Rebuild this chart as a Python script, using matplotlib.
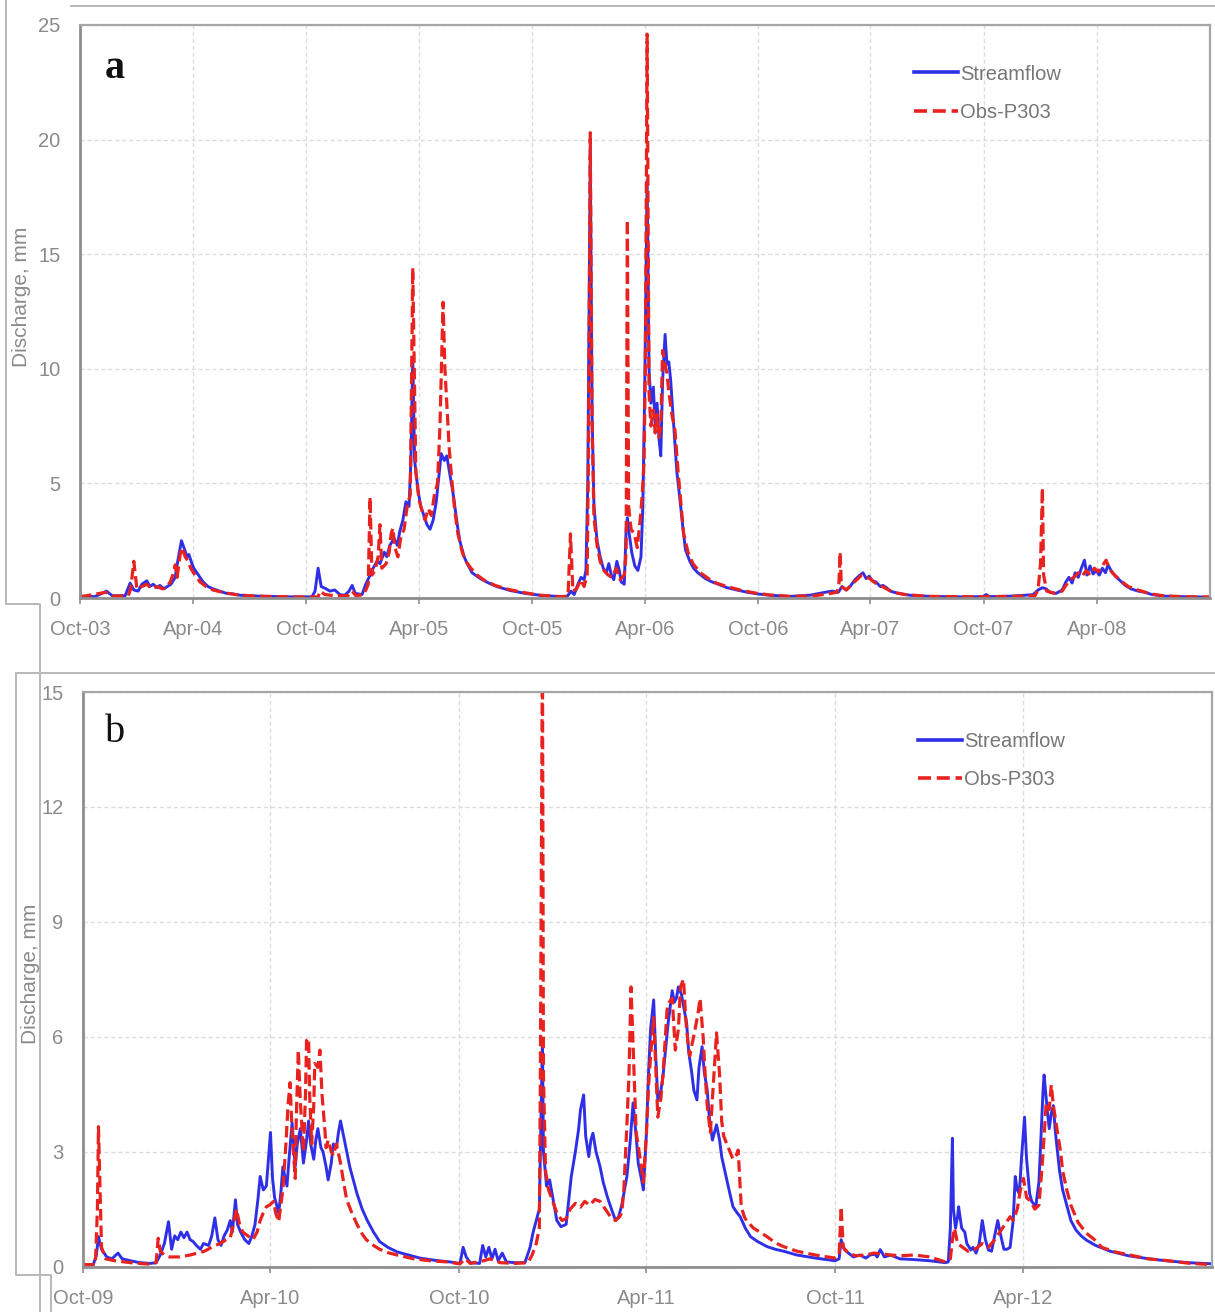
import numpy as np
import pandas as pd
import matplotlib
matplotlib.use("Agg")
import matplotlib.pyplot as plt
import matplotlib.dates as mdates
from matplotlib.lines import Line2D

# ---------------------------------------------------------------------------
# Daily discharge records (mm). Days are counted from the start of each record.
# ---------------------------------------------------------------------------
start_a = "2003-10-01"
end_a = "2008-10-01"

flow_a_day = [0, 24, 43, 52, 73, 81, 87, 94, 100, 108, 113, 118, 125, 129, 136, 141, 147, 154, 158, 164,
              168, 173, 176, 181, 184, 189, 194, 199, 207, 215, 226, 237, 247, 259, 291, 340, 375, 380,
              385, 390, 398, 404, 412, 420, 428, 435, 440, 445, 456, 462, 469, 474, 480, 485, 492, 496,
              501, 508, 513, 517, 522, 527, 532, 535, 538, 541, 547, 551, 556, 561, 566, 571, 576, 581,
              584, 589, 593, 598, 603, 610, 614, 621, 626, 634, 647, 661, 674, 695, 720, 744, 776, 788,
              794, 799, 805, 810, 815, 818, 821, 825, 828, 831, 836, 841, 846, 851, 855, 859, 863, 868,
              872, 875, 880, 883, 885, 888, 892, 897, 902, 907, 910, 913, 917, 920, 923, 927, 930, 933,
              936, 939, 942, 946, 949, 952, 955, 960, 965, 970, 975, 979, 986, 992, 999, 1011, 1022, 1032,
              1046, 1062, 1079, 1095, 1116, 1148, 1180, 1205, 1216, 1226, 1232, 1239, 1245, 1253, 1261,
              1266, 1271, 1276, 1281, 1287, 1294, 1298, 1304, 1310, 1323, 1342, 1374, 1423, 1460, 1465,
              1470, 1504, 1528, 1541, 1549, 1556, 1562, 1568, 1578, 1588, 1594, 1599, 1604, 1609, 1614,
              1619, 1624, 1628, 1633, 1638, 1643, 1648, 1653, 1658, 1662, 1667, 1674, 1682, 1690, 1699,
              1711, 1722, 1733, 1754, 1795, 1827]
flow_a = [0.08, 0.06, 0.3, 0.1, 0.1, 0.65, 0.35, 0.3, 0.6, 0.75, 0.5, 0.6, 0.45, 0.55, 0.4, 0.5, 0.6, 0.9,
          1.6, 2.5, 2.2, 1.8, 1.9, 1.5, 1.3, 1.1, 0.9, 0.7, 0.5, 0.4, 0.3, 0.2, 0.18, 0.12, 0.08, 0.05,
          0.05, 0.3, 1.3, 0.5, 0.4, 0.3, 0.35, 0.15, 0.12, 0.3, 0.55, 0.2, 0.15, 0.6, 1.0, 1.3, 1.6, 1.5,
          2.0, 1.8, 2.3, 2.6, 2.3, 2.9, 3.4, 4.2, 4.0, 6.0, 10.5, 6.0, 4.6, 4.0, 3.6, 3.2, 3.0, 3.4, 4.2,
          5.5, 6.3, 6.0, 6.2, 5.4, 4.6, 3.2, 2.5, 1.8, 1.5, 1.1, 0.85, 0.65, 0.5, 0.33, 0.2, 0.12, 0.06,
          0.08, 0.3, 0.15, 0.6, 0.9, 0.8, 1.2, 5.0, 19.5, 8.0, 4.0, 2.5, 1.8, 1.3, 1.1, 1.5, 1.0, 0.8,
          1.6, 1.2, 0.7, 0.6, 3.0, 3.5, 2.8, 2.0, 1.4, 1.2, 1.8, 4.0, 9.0, 18.2, 10.0, 8.5, 9.2, 7.5, 8.5,
          7.0, 6.2, 9.5, 11.5, 10.2, 10.3, 9.5, 7.5, 5.5, 4.3, 3.0, 2.1, 1.6, 1.3, 1.1, 0.85, 0.7, 0.6,
          0.45, 0.35, 0.25, 0.18, 0.12, 0.07, 0.12, 0.25, 0.3, 0.25, 0.5, 0.35, 0.5, 0.8, 1.0, 1.1, 0.85,
          0.95, 0.75, 0.7, 0.5, 0.55, 0.45, 0.3, 0.2, 0.12, 0.07, 0.05, 0.06, 0.15, 0.06, 0.08, 0.12,
          0.15, 0.35, 0.45, 0.4, 0.25, 0.2, 0.35, 0.7, 0.9, 0.65, 1.1, 0.9, 1.3, 1.65, 1.0, 1.4, 1.05,
          1.2, 1.0, 1.3, 1.1, 1.45, 1.2, 0.95, 0.75, 0.55, 0.4, 0.3, 0.25, 0.15, 0.08, 0.05, 0.04]

obs_a_day = [0, 42, 52, 78, 82, 87, 92, 100, 108, 116, 125, 133, 139, 146, 150, 154, 157, 162, 165, 170,
             175, 179, 186, 194, 204, 215, 230, 251, 283, 356, 385, 388, 396, 412, 433, 440, 446, 459,
             466, 469, 472, 477, 482, 485, 488, 495, 500, 503, 506, 509, 514, 519, 524, 529, 534, 538,
             543, 548, 553, 558, 563, 568, 573, 578, 582, 587, 590, 593, 597, 601, 606, 611, 618, 624,
             632, 642, 655, 671, 692, 715, 744, 776, 789, 793, 797, 803, 810, 815, 820, 822, 825, 828,
             831, 836, 841, 847, 854, 860, 867, 873, 880, 883, 885, 887, 891, 896, 901, 906, 909, 912,
             914, 917, 920, 923, 927, 930, 933, 936, 939, 942, 946, 949, 952, 957, 962, 967, 972, 976,
             983, 991, 1003, 1016, 1029, 1046, 1067, 1091, 1116, 1148, 1188, 1213, 1224, 1227, 1229,
             1231, 1239, 1248, 1256, 1264, 1271, 1277, 1286, 1294, 1304, 1315, 1334, 1374, 1455, 1520,
             1544, 1549, 1553, 1556, 1558, 1563, 1576, 1588, 1594, 1601, 1607, 1614, 1620, 1627, 1633,
             1640, 1646, 1653, 1659, 1664, 1669, 1677, 1685, 1695, 1706, 1719, 1730, 1754, 1795, 1827]
obs_a = [0.05, 0.25, 0.08, 0.1, 0.4, 1.6, 0.4, 0.5, 0.6, 0.4, 0.5, 0.4, 0.45, 0.7, 1.0, 1.45, 0.9, 1.9,
         2.2, 1.8, 1.6, 1.3, 1.0, 0.7, 0.5, 0.35, 0.25, 0.15, 0.08, 0.04, 0.05, 0.3, 0.15, 0.1, 0.1, 0.3,
         0.1, 0.15, 0.6, 4.4, 1.0, 1.2, 1.8, 3.2, 1.3, 1.5, 2.0, 2.8, 3.05, 2.2, 1.8, 2.7, 3.0, 4.0, 4.5,
         14.4, 5.5, 4.3, 3.8, 3.4, 3.9, 3.6, 4.5, 5.0, 7.5, 12.9, 10.0, 8.5, 6.5, 5.2, 3.8, 2.8, 2.0,
         1.6, 1.3, 1.0, 0.75, 0.55, 0.38, 0.25, 0.12, 0.06, 0.07, 2.8, 0.3, 0.4, 0.8, 0.5, 1.0, 6.0,
         20.3, 7.5, 3.5, 2.3, 1.6, 1.2, 1.0, 0.9, 1.3, 0.8, 1.0, 2.0, 16.5, 4.0, 3.0, 2.8, 2.2, 3.5, 4.5,
         6.0, 10.0, 24.6, 9.0, 7.5, 8.2, 7.2, 8.0, 7.0, 7.5, 10.8, 10.2, 9.8, 9.0, 8.0, 7.3, 5.5, 4.0,
         2.8, 2.0, 1.5, 1.1, 0.85, 0.65, 0.5, 0.35, 0.22, 0.13, 0.07, 0.1, 0.2, 0.25, 0.6, 2.0, 0.5,
         0.35, 0.6, 0.8, 1.0, 0.9, 0.85, 0.65, 0.55, 0.4, 0.25, 0.15, 0.07, 0.05, 0.08, 0.1, 0.35, 1.5,
         4.8, 1.0, 0.3, 0.2, 0.3, 0.55, 0.8, 0.9, 1.1, 0.95, 1.2, 1.0, 1.3, 1.15, 1.4, 1.65, 1.3, 1.1,
         0.9, 0.7, 0.5, 0.38, 0.28, 0.18, 0.09, 0.05, 0.04]

start_b = "2009-10-01"
end_b = "2012-10-01"

flow_b_day = [0, 10, 13, 15, 18, 23, 28, 34, 38, 46, 55, 65, 71, 75, 79, 83, 86, 89, 92, 95, 98, 101, 104,
              107, 110, 114, 117, 122, 125, 128, 131, 134, 137, 140, 143, 145, 148, 150, 153, 157, 161,
              164, 167, 170, 172, 175, 178, 180, 182, 184, 186, 190, 192, 194, 198, 200, 203, 206, 208,
              211, 214, 217, 219, 221, 224, 226, 228, 231, 233, 236, 238, 241, 243, 246, 248, 250, 253,
              256, 259, 262, 266, 271, 276, 282, 288, 296, 305, 316, 327, 342, 356, 366, 369, 372, 376,
              385, 388, 391, 394, 397, 400, 403, 407, 411, 419, 429, 434, 437, 440, 443, 444, 446, 447,
              450, 453, 456, 460, 464, 469, 474, 478, 481, 483, 486, 488, 491, 493, 495, 498, 502, 505,
              509, 513, 517, 520, 523, 525, 528, 531, 534, 537, 539, 542, 544, 547, 549, 551, 554, 556,
              558, 561, 563, 566, 568, 572, 574, 576, 578, 581, 583, 586, 588, 591, 593, 596, 598, 601,
              603, 606, 608, 611, 613, 615, 618, 620, 623, 625, 628, 631, 635, 638, 643, 648, 655, 664,
              672, 680, 693, 711, 730, 734, 736, 739, 743, 748, 754, 760, 764, 769, 771, 774, 778, 784,
              793, 807, 822, 837, 840, 842, 844, 845, 847, 849, 850, 853, 856, 858, 862, 864, 867, 870,
              873, 876, 879, 882, 885, 888, 891, 894, 897, 900, 903, 905, 907, 909, 911, 914, 916, 919,
              921, 925, 926, 928, 930, 932, 933, 936, 938, 940, 942, 944, 946, 948, 951, 955, 959, 964,
              969, 974, 983, 997, 1015, 1035, 1055, 1073, 1096]
flow_b = [0.05, 0.05, 0.3, 0.78, 0.45, 0.25, 0.2, 0.35, 0.2, 0.15, 0.1, 0.08, 0.1, 0.3, 0.6, 1.17, 0.45,
          0.8, 0.7, 0.9, 0.75, 0.9, 0.7, 0.65, 0.55, 0.45, 0.6, 0.55, 0.8, 1.27, 0.7, 0.55, 0.8, 0.95,
          1.2, 0.9, 1.74, 1.1, 0.9, 0.7, 0.6, 0.8, 1.1, 1.8, 2.35, 2.0, 2.1, 2.8, 3.5, 2.3, 1.8, 1.4, 1.9,
          2.6, 2.1, 2.8, 3.75, 2.6, 3.2, 3.6, 2.7, 3.3, 3.8, 3.2, 2.8, 3.3, 3.6, 3.1, 3.0, 2.6, 2.26, 2.7,
          3.2, 3.1, 3.5, 3.8, 3.4, 3.0, 2.6, 2.3, 1.9, 1.5, 1.2, 0.9, 0.65, 0.5, 0.38, 0.3, 0.22, 0.16,
          0.12, 0.08, 0.5, 0.25, 0.1, 0.08, 0.55, 0.25, 0.5, 0.2, 0.45, 0.15, 0.35, 0.12, 0.1, 0.1, 0.5,
          0.9, 1.2, 1.5, 3.0, 5.9, 3.0, 2.1, 2.26, 1.8, 1.2, 1.04, 1.1, 2.35, 3.0, 3.56, 4.1, 4.48, 3.4,
          2.87, 3.3, 3.48, 3.0, 2.6, 2.2, 1.82, 1.5, 1.2, 1.3, 1.6, 1.9, 2.35, 3.2, 4.27, 3.4, 2.7, 2.3,
          2.0, 3.5, 5.05, 6.2, 6.96, 5.5, 4.35, 4.6, 4.96, 5.8, 6.35, 7.2, 6.9, 7.0, 7.3, 7.1, 6.8, 6.35,
          5.6, 5.05, 4.6, 4.35, 5.2, 5.74, 5.1, 4.6, 3.9, 3.3, 3.5, 3.7, 3.3, 2.87, 2.5, 2.26, 1.9, 1.56,
          1.4, 1.3, 1.0, 0.78, 0.65, 0.52, 0.45, 0.4, 0.3, 0.22, 0.15, 0.2, 0.7, 0.45, 0.35, 0.25, 0.3,
          0.22, 0.3, 0.32, 0.25, 0.44, 0.25, 0.3, 0.2, 0.18, 0.15, 0.1, 0.12, 1.0, 3.35, 1.5, 1.0, 1.3,
          1.56, 1.0, 0.9, 0.6, 0.43, 0.5, 0.35, 0.6, 1.2, 0.7, 0.43, 0.4, 0.8, 1.2, 0.8, 0.45, 0.45, 0.5,
          1.2, 2.35, 2.0, 1.9, 2.8, 3.9, 2.8, 1.9, 1.7, 1.56, 1.8, 2.2, 3.4, 4.6, 5.0, 4.1, 3.6, 4.0, 4.2,
          3.5, 3.0, 2.5, 2.0, 1.6, 1.2, 0.95, 0.8, 0.69, 0.55, 0.4, 0.28, 0.2, 0.14, 0.1, 0.07]

obs_b_day = [0, 12, 14, 15, 17, 18, 22, 31, 46, 65, 71, 73, 75, 79, 84, 94, 104, 111, 118, 126, 133, 139,
             143, 146, 149, 152, 155, 160, 165, 169, 172, 175, 178, 181, 185, 187, 190, 192, 194, 197,
             199, 201, 203, 206, 207, 209, 211, 214, 216, 217, 219, 220, 222, 224, 225, 228, 230, 232,
             235, 236, 238, 241, 243, 246, 250, 253, 256, 261, 266, 271, 275, 282, 288, 296, 305, 321,
             337, 353, 366, 371, 376, 389, 395, 405, 419, 432, 436, 440, 443, 444, 446, 447, 449, 452,
             456, 460, 465, 469, 473, 478, 483, 487, 492, 497, 502, 507, 512, 517, 521, 523, 525, 528,
             530, 532, 535, 537, 541, 544, 547, 549, 551, 554, 556, 558, 561, 563, 567, 569, 572, 575,
             578, 580, 583, 585, 587, 589, 592, 594, 597, 599, 602, 604, 606, 609, 612, 615, 618, 620,
             622, 625, 628, 631, 634, 636, 639, 642, 644, 651, 657, 664, 672, 680, 693, 711, 730, 734,
             736, 738, 743, 750, 759, 768, 784, 793, 807, 822, 837, 842, 844, 846, 849, 854, 859, 866,
             873, 879, 885, 890, 895, 900, 903, 907, 910, 913, 916, 920, 924, 928, 931, 933, 935, 938,
             940, 942, 946, 949, 951, 955, 959, 966, 974, 982, 989, 1002, 1016, 1034, 1054, 1075, 1096]
obs_b = [0.05, 0.05, 1.5, 3.65, 1.5, 0.5, 0.2, 0.15, 0.1, 0.06, 0.1, 0.74, 0.4, 0.3, 0.25, 0.25, 0.3, 0.35,
         0.4, 0.52, 0.6, 0.7, 0.75, 1.1, 1.5, 1.1, 0.9, 0.8, 0.7, 0.9, 1.2, 1.4, 1.56, 1.6, 1.7, 1.4, 1.17,
         1.6, 2.0, 3.2, 4.2, 4.8, 3.5, 2.3, 3.8, 5.65, 4.3, 3.0, 4.5, 5.9, 5.96, 4.5, 3.2, 4.2, 5.3, 5.2,
         5.65, 4.5, 3.5, 3.1, 3.3, 3.0, 2.9, 3.2, 2.7, 2.2, 1.74, 1.4, 1.1, 0.85, 0.7, 0.55, 0.45, 0.36,
         0.3, 0.2, 0.15, 0.12, 0.07, 0.2, 0.08, 0.15, 0.2, 0.1, 0.08, 0.1, 0.3, 0.6, 1.0, 5.0, 16.5, 5.0,
         2.5, 2.0, 1.7, 1.4, 1.2, 1.25, 1.5, 1.65, 1.55, 1.7, 1.6, 1.75, 1.7, 1.5, 1.3, 1.2, 1.3, 1.4,
         2.0, 3.7, 5.0, 7.3, 5.0, 3.5, 2.8, 2.2, 3.5, 4.7, 5.5, 6.5, 5.2, 3.9, 4.4, 5.0, 6.7, 6.9, 7.0,
         5.65, 6.2, 7.3, 7.5, 6.5, 5.9, 5.5, 5.9, 6.17, 6.6, 7.0, 6.0, 5.0, 4.2, 3.5, 4.8, 6.1, 5.0, 3.8,
         3.4, 3.2, 3.0, 2.8, 2.9, 3.04, 1.56, 1.3, 1.2, 1.0, 0.9, 0.78, 0.62, 0.52, 0.4, 0.3, 0.22, 0.3,
         1.56, 0.5, 0.35, 0.28, 0.3, 0.35, 0.3, 0.28, 0.3, 0.25, 0.12, 0.2, 0.7, 1.0, 0.6, 0.5, 0.4, 0.45,
         0.6, 0.5, 0.7, 0.9, 1.1, 1.3, 1.2, 1.5, 2.0, 2.3, 1.8, 1.7, 1.5, 1.6, 2.6, 3.4, 4.27, 4.1, 4.74,
         4.2, 3.5, 3.0, 2.5, 2.0, 1.6, 1.15, 0.87, 0.7, 0.5, 0.38, 0.3, 0.2, 0.15, 0.08, 0.05]

series_labels = ["Streamflow", "Obs-P303"]
panel_letters = ["a", "b"]
yticks_a = [0, 5, 10, 15, 20, 25]
yticks_b = [0, 3, 6, 9, 12, 15]
ylabel = "Discharge, mm"

# ---------------------------------------------------------------------------
BLUE = "#2f2fe8"
RED = "#e8231f"
GRID = "#dcdcdc"
TXT = "#8a8a8a"
FONT = "Liberation Sans"

W, H = 1215, 1312
fig = plt.figure(figsize=(W / 100, H / 100), dpi=100)


def to_dates(start, days):
    return pd.Timestamp(start) + pd.to_timedelta(np.asarray(days), unit="D")


def fig_xy(px, py):
    return px / W, 1 - py / H


def add_frame(points, color="#b8b8b8", lw=1.4):
    xs, ys = zip(*[fig_xy(px, py) for px, py in points])
    fig.add_artist(Line2D(xs, ys, transform=fig.transFigure, color=color, lw=lw))


def style_axes(ax, start, end, yticks, letter, letter_pos, letter_weight, leg_anchor):
    ax.set_xlim(pd.Timestamp(start), pd.Timestamp(end))
    ax.set_ylim(yticks[0], yticks[-1])
    ax.set_yticks(yticks)
    ticks = pd.date_range(start, end, freq="6MS")[:-1]
    ax.set_xticks(ticks)
    ax.xaxis.set_major_formatter(mdates.DateFormatter("%b-%y"))
    ax.grid(True, color=GRID, lw=1.0, ls=(0, (3, 2)))
    ax.set_axisbelow(True)
    for side in ("left", "bottom"):
        ax.spines[side].set_color("#8e8e8e")
        ax.spines[side].set_linewidth(2.0)
    for side in ("top", "right"):
        ax.spines[side].set_color("#a6a6a6")
        ax.spines[side].set_linewidth(1.6)
    ax.tick_params(axis="x", length=4, width=1.2, color="#8e8e8e", pad=12,
                   labelsize=14.5, labelcolor=TXT)
    ax.tick_params(axis="y", length=0, pad=14, labelsize=14.5, labelcolor=TXT)
    for lab in ax.get_xticklabels() + ax.get_yticklabels():
        lab.set_fontfamily(FONT)
    ax.set_ylabel(ylabel, fontsize=15, color=TXT, family=FONT)
    ax.text(letter_pos[0], letter_pos[1], letter, transform=ax.transAxes,
            family="Liberation Serif", fontsize=29, fontweight=letter_weight,
            color="#111111", ha="left", va="baseline")
    leg = ax.legend(loc="upper left", bbox_to_anchor=leg_anchor, frameon=False,
                    handlelength=2.2, handletextpad=0.1, labelspacing=0.95,
                    borderpad=0, borderaxespad=0,
                    prop={"family": FONT, "size": 14.5})
    for t in leg.get_texts():
        t.set_color("#777777")
    for h in leg.get_lines():
        h.set_linewidth(2.6)


LW_FLOW = 2.1
LW_OBS = 2.3
DASH = (3.6, 1.6)

# Panel a ------------------------------------------------------------------
ax_a = fig.add_axes([80 / W, 1 - 598 / H, (1210 - 80) / W, (598 - 25) / H])
ax_a.plot(to_dates(start_a, flow_a_day), flow_a, color=BLUE, lw=LW_FLOW,
          label=series_labels[0], solid_joinstyle="round")
ax_a.plot(to_dates(start_a, obs_a_day), obs_a, color=RED, lw=LW_OBS,
          dashes=DASH, label=series_labels[1])
style_axes(ax_a, start_a, end_a, yticks_a, panel_letters[0], (0.022, 0.908), "bold",
           (0.738, 0.931))
ax_a.yaxis.set_label_coords(-0.043, 0.525)

# Panel b ------------------------------------------------------------------
ax_b = fig.add_axes([83 / W, 1 - 1266.5 / H, (1212 - 83) / W, (1266.5 - 692) / H])
ax_b.plot(to_dates(start_b, flow_b_day), flow_b, color=BLUE, lw=LW_FLOW,
          label=series_labels[0], solid_joinstyle="round")
ax_b.plot(to_dates(start_b, obs_b_day), obs_b, color=RED, lw=LW_OBS,
          dashes=DASH, label=series_labels[1])
style_axes(ax_b, start_b, end_b, yticks_b, panel_letters[1], (0.0195, 0.913), "normal",
           (0.7396, 0.93))
ax_b.yaxis.set_label_coords(-0.038, 0.51)

# thin page frames around the two panels
add_frame([(71, 6), (W, 6)])
add_frame([(6, 0), (6, 604), (40, 604), (40, H)])
add_frame([(16, 673), (W, 673)])
add_frame([(16, 673), (16, 1275), (51, 1275), (51, H)])

fig.savefig("out.png", dpi=100, facecolor="white")
